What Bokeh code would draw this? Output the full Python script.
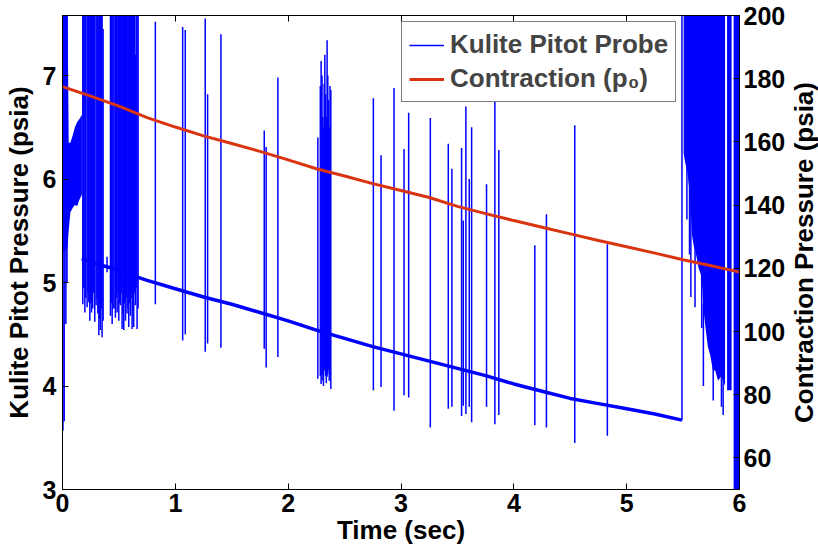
import math
from bokeh.plotting import figure
from bokeh.models import (Range1d, LinearAxis, FixedTicker, Legend, LegendItem, Label,
                          CustomLabelingPolicy)
from bokeh.embed import file_html
from bokeh.resources import INLINE

# ---------------- data ----------------
x_ticks = [0, 1, 2, 3, 4, 5, 6]
left_ticks = [3, 4, 5, 6, 7]
right_ticks = [60, 80, 100, 120, 140, 160, 180, 200]

# Contraction pressure (psia, right axis)
red_t = [0.0, 0.25, 0.5, 0.75, 1.0, 1.25, 1.5, 1.75, 2.0, 2.25, 2.5, 2.75, 3.0,
         3.25, 3.5, 3.75, 4.0, 4.25, 4.5, 4.75, 5.0, 5.25, 5.5, 5.75, 6.0]
red_p = [177.5, 174.5, 171.3, 167.7, 164.7, 161.9, 159.5, 157.0, 154.3, 151.5, 149.2,
         146.8, 144.6, 142.4, 139.6, 137.3, 135.1, 133.0, 130.9, 128.8, 126.8, 124.8,
         122.7, 120.8, 118.8]

# Kulite pitot probe, quiet baseline (psia, left axis)
base_t = [0.17, 0.25, 0.37, 0.5, 0.67, 0.75, 1.0, 1.25, 1.5, 1.75, 2.0, 2.25, 2.5,
          2.75, 3.0, 3.25, 3.5, 3.75, 4.0, 4.25, 4.5, 4.75, 5.0, 5.25, 5.49]
base_p = [5.23, 5.20, 5.16, 5.12, 5.05, 5.02, 4.94, 4.86, 4.79, 4.71, 4.63, 4.54, 4.46,
          4.38, 4.31, 4.24, 4.17, 4.10, 4.02, 3.95, 3.88, 3.83, 3.78, 3.73, 3.67]

# Kulite spikes: time, low and high excursions
spike_t = [0.004, 0.015, 0.03, 0.04,
           0.180, 0.188, 0.198, 0.206, 0.218, 0.226, 0.233, 0.242, 0.250, 0.257, 0.268,
           0.276, 0.286, 0.298, 0.306, 0.313, 0.322, 0.330, 0.336, 0.344, 0.351, 0.360,
           0.395,
           0.425, 0.433, 0.440, 0.448, 0.457, 0.469, 0.477, 0.484, 0.492, 0.499, 0.506,
           0.513, 0.521, 0.528, 0.536, 0.543, 0.550, 0.558, 0.565, 0.572, 0.580, 0.587,
           0.595, 0.602, 0.610, 0.617, 0.624, 0.631, 0.639, 0.646, 0.653, 0.661, 0.670,
           0.823, 1.065, 1.088, 1.265, 1.286, 1.404, 1.788, 1.805, 1.909,
           2.263, 2.285, 2.292, 2.300, 2.307, 2.313, 2.319, 2.325, 2.331, 2.338, 2.345,
           2.351, 2.357, 2.364, 2.371, 2.378,
           2.755, 2.823, 2.938, 3.027, 3.068, 3.260, 3.419, 3.451, 3.537, 3.552, 3.575,
           3.605, 3.626, 3.758, 3.832, 3.867, 4.186, 4.289, 4.540, 4.829,
           5.490, 5.534, 5.557, 5.569, 5.606, 5.665, 5.680, 5.767, 5.840, 5.855]
spike_lo = [3.57, 3.66, 4.60, 5.00,
            4.79, 4.95, 4.71, 4.85, 4.76, 4.90, 4.81, 4.63, 4.80, 4.71, 4.75,
            4.90, 4.62, 4.78, 4.85, 4.70, 4.49, 4.65, 4.54, 4.75, 4.47, 4.63,
            5.10,
            4.68, 4.80, 4.60, 4.75, 4.75, 4.66, 4.85, 4.71, 4.90, 4.63, 4.80,
            4.78, 4.90, 4.55, 4.70, 4.54, 4.80, 4.63, 4.85, 4.70, 4.75, 4.57,
            4.80, 4.68, 4.85, 4.55, 4.72, 4.57, 4.90, 4.78, 4.95, 4.55, 4.75,
            4.79, 4.44, 4.50, 4.33, 4.41, 4.37, 4.36, 4.18, 4.28,
            4.07, 4.10, 4.02, 4.05, 4.11, 4.00, 4.18, 4.15, 4.10, 4.03, 4.09,
            4.12, 4.16, 4.05, 4.10, 3.97,
            3.96, 3.99, 3.76, 3.91, 3.89, 3.60, 3.78, 3.80, 3.71, 3.81, 3.73,
            3.80, 3.65, 3.80, 3.63, 3.72, 3.62, 3.60, 3.45, 3.52,
            3.67, 5.61, 5.27, 4.86, 4.76, 4.56, 4.00, 3.86, 3.80, 3.72]
spike_hi = [7.60, 7.60, 7.60, 7.60,
            7.60, 7.60, 7.60, 7.60, 7.60, 7.60, 7.60, 7.60, 7.60, 7.60, 7.60,
            7.60, 7.60, 7.60, 7.60, 7.60, 7.60, 7.60, 7.60, 7.60, 7.60, 7.45,
            5.25,
            7.60, 7.60, 7.60, 7.60, 7.60, 7.60, 7.60, 7.60, 7.60, 7.60, 7.60,
            7.60, 7.60, 7.60, 7.60, 7.60, 7.60, 7.60, 7.60, 7.60, 7.60, 7.60,
            7.60, 7.60, 7.60, 7.60, 7.60, 7.60, 7.60, 7.20, 7.60, 7.60, 7.60,
            7.52, 7.47, 7.44, 7.55, 6.82, 7.40, 6.47, 6.31, 6.98,
            6.40, 6.90, 7.14, 7.00, 6.60, 6.50, 6.92, 7.20, 6.82, 6.60, 7.34,
            7.00, 6.76, 6.50, 6.90, 6.86,
            6.78, 6.23, 6.88, 6.29, 6.64, 6.59, 6.34, 6.10, 6.30, 5.60, 6.70,
            6.00, 6.50, 5.95, 6.76, 6.28, 5.36, 5.66, 6.52, 5.37,
            7.60, 6.20, 6.00, 5.80, 5.40, 5.10, 4.80, 4.20, 4.10, 4.10]

# Kulite noisy band at start-up
start_t = [0.0, 0.02, 0.045, 0.055, 0.07, 0.09, 0.11, 0.13, 0.15, 0.172]
start_lo = [5.30, 5.30, 5.35, 5.50, 5.68, 5.72, 5.75, 5.74, 5.80, 5.85]
start_hi = [7.60, 7.60, 7.60, 6.35, 6.35, 6.42, 6.50, 6.55, 6.58, 6.62]

# Kulite noisy band at shut-down (three pieces)
end1_t = [5.505, 5.52, 5.534, 5.55, 5.565, 5.58, 5.595, 5.61, 5.635, 5.665, 5.68,
          5.70, 5.72, 5.74, 5.765, 5.785, 5.81, 5.84, 5.872]
end1_lo = [6.25, 6.15, 6.10, 5.95, 5.75, 5.45, 5.35, 5.30, 5.15, 5.05, 4.75,
           4.55, 4.38, 4.30, 4.15, 4.15, 4.05, 4.10, 4.00]
end1_hi = [7.60] * 19
end2_t = [5.89, 5.93]
end2_lo = [3.96, 3.96]
end2_hi = [7.60, 7.60]
end3_t = [5.948, 6.0]
end3_lo = [2.90, 2.90]
end3_hi = [7.60, 7.60]

BLUE = "#0000ff"
RED = "#d9340f"
FONT = "Liberation Sans"

# ---------------- figure ----------------
p = figure(width=818, height=552, output_backend="svg", toolbar_location=None,
           x_range=Range1d(0, 6), y_range=Range1d(3, 7.58),
           min_border_left=62, min_border_right=78, min_border_top=15, min_border_bottom=63)
p.extra_y_ranges = {"contraction": Range1d(50, 200)}
p.xgrid.visible = False
p.ygrid.visible = False
p.outline_line_color = "black"
p.outline_line_width = 1
p.background_fill_color = "white"
p.border_fill_color = "white"

bottom_axis = p.below[0]
left_axis = p.left[0]
right_axis = LinearAxis(y_range_name="contraction")
p.add_layout(right_axis, "right")
top_axis = LinearAxis()
p.add_layout(top_axis, "above")

bottom_axis.ticker = FixedTicker(ticks=x_ticks)
top_axis.ticker = FixedTicker(ticks=x_ticks)
left_axis.ticker = FixedTicker(ticks=left_ticks)
right_axis.ticker = FixedTicker(ticks=right_ticks)
bottom_axis.axis_label = "Time (sec)"
left_axis.axis_label = "Kulite Pitot Pressure (psia)"

for ax in [bottom_axis, left_axis, right_axis, top_axis]:
    ax.major_tick_in = 6
    ax.major_tick_out = 0
    ax.minor_tick_line_color = None
    ax.axis_line_color = "black"
    ax.major_tick_line_color = "black"
    ax.major_label_text_font = FONT
    ax.major_label_text_font_style = "bold"
    ax.major_label_text_font_size = "25px"
    ax.major_label_text_color = "black"
    ax.axis_label_text_font = FONT
    ax.axis_label_text_font_style = "bold"
    ax.axis_label_text_font_size = "26px"
    ax.axis_label_text_color = "black"

top_axis.major_label_policy = CustomLabelingPolicy(
    code="for (const i of indices) { indices.unset(i) }\nreturn indices")
top_axis.major_label_text_font_size = "2px"
top_axis.major_label_standoff = 0
bottom_axis.major_label_standoff = 4
bottom_axis.axis_label_standoff = 0
left_axis.major_label_standoff = 6
left_axis.axis_label_standoff = 6
right_axis.major_label_standoff = 4

# right axis title, reading bottom to top like the left one (own side panel)
right_title = Label(x=15, y=237, x_units="screen", y_units="screen",
                    text="Contraction Pressure (psia)", angle=math.pi / 2,
                    text_align="center", text_baseline="middle",
                    text_font=FONT, text_font_style="bold", text_font_size="26px",
                    text_color="black")
p.add_layout(right_title, "right")

# Kulite signal (left axis)
p.varea(x=start_t, y1=start_lo, y2=start_hi, fill_color=BLUE)
p.varea(x=end1_t, y1=end1_lo, y2=end1_hi, fill_color=BLUE)
p.varea(x=end2_t, y1=end2_lo, y2=end2_hi, fill_color=BLUE)
p.varea(x=end3_t, y1=end3_lo, y2=end3_hi, fill_color=BLUE)
spikes = p.segment(x0=spike_t, y0=spike_lo, x1=spike_t, y1=spike_hi,
                   line_color=BLUE, line_width=1.5)
p.line(base_t, base_p, line_color=BLUE, line_width=3.5)

# Contraction pressure (right axis)
red = p.line(red_t, red_p, line_color=RED, line_width=3, y_range_name="contraction")

legend = Legend(items=[LegendItem(label="Kulite Pitot Probe", renderers=[spikes]),
                       LegendItem(label="Contraction (p\u2080)", renderers=[red])],
                location=(339, 387))
legend.border_line_color = "black"
legend.border_line_width = 1
legend.background_fill_color = "white"
legend.background_fill_alpha = 1
legend.label_text_font = FONT
legend.label_text_font_style = "bold"
legend.label_text_font_size = "26px"
legend.glyph_width = 35
legend.glyph_height = 20
legend.label_standoff = 6
legend.padding = 7
legend.spacing = 3
legend.margin = 0
p.add_layout(legend, "center")

open("out.html", "w").write(file_html(p, INLINE))
